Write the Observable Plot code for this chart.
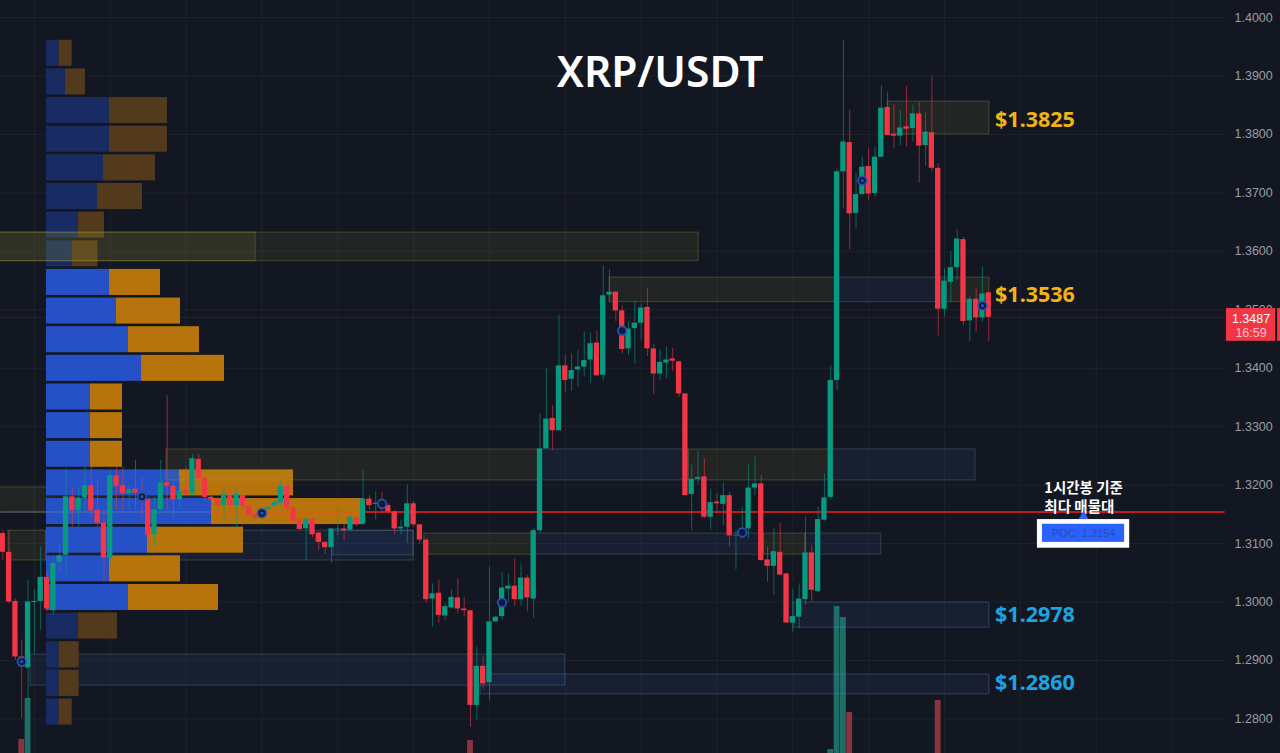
<!DOCTYPE html>
<html><head><meta charset="utf-8">
<script src="https://cdn.jsdelivr.net/npm/d3@7"></script>
<script src="https://cdn.jsdelivr.net/npm/@observablehq/plot@0.6"></script>
<style>html,body{margin:0;padding:0;background:#131722;overflow:hidden}svg{display:block}</style>
</head><body><div id="chart"></div>
<script>
// Candles: open, high, low, close per bar
const opens=[1.3117,1.3085,1.3001,1.2906,1.2887,1.2999,1.3001,1.3042,1.2985,1.3068,1.3080,1.3180,1.3156,1.3178,1.3199,1.3157,1.3135,1.3075,1.3216,1.3199,1.3185,1.3193,1.3186,1.3175,1.3115,1.3158,1.3204,1.3198,1.3175,1.3191,1.3185,1.3244,1.3211,1.3179,1.3175,1.3165,1.3182,1.3165,1.3182,1.3164,1.3149,1.3143,1.3158,1.3164,1.3169,1.3198,1.3161,1.3140,1.3125,1.3142,1.3118,1.3102,1.3093,1.3124,1.3125,1.3123,1.3144,1.3133,1.3176,1.3167,1.3172,1.3165,1.3154,1.3125,1.3128,1.3168,1.3132,1.3106,1.3005,1.3015,1.2976,1.2990,1.3007,1.2988,1.2985,1.2823,1.2890,1.2862,1.2966,1.2975,1.3022,1.3027,1.3004,1.3041,1.3005,1.3122,1.3262,1.3314,1.3293,1.3404,1.3381,1.3397,1.3402,1.3414,1.3443,1.3388,1.3525,1.3530,1.3498,1.3433,1.3468,1.3477,1.3504,1.3433,1.3390,1.3409,1.3416,1.3411,1.3356,1.3184,1.3210,1.3214,1.3145,1.3171,1.3167,1.3182,1.3113,1.3119,1.3125,1.3195,1.3202,1.3072,1.3061,1.3085,1.3048,1.2964,1.2974,1.3004,1.3084,1.3018,1.3140,1.3179,1.3379,1.3736,1.3786,1.3665,1.3697,1.3745,1.3699,1.3761,1.3846,1.3800,1.3797,1.3813,1.3810,1.3835,1.3781,1.3803,1.3742,1.3501,1.3547,1.3572,1.3620,1.3481,1.3518,1.3486,1.3529];
const highs=[1.3122,1.3122,1.3005,1.2935,1.3037,1.3021,1.3094,1.3051,1.3077,1.3097,1.3228,1.3196,1.3196,1.3231,1.3240,1.3208,1.3159,1.3225,1.3230,1.3230,1.3199,1.3242,1.3214,1.3176,1.3179,1.3242,1.3353,1.3208,1.3214,1.3231,1.3253,1.3252,1.3214,1.3185,1.3179,1.3194,1.3193,1.3196,1.3185,1.3166,1.3151,1.3157,1.3164,1.3172,1.3210,1.3201,1.3165,1.3142,1.3143,1.3144,1.3120,1.3103,1.3126,1.3162,1.3134,1.3148,1.3146,1.3226,1.3182,1.3188,1.3188,1.3168,1.3156,1.3140,1.3200,1.3172,1.3133,1.3108,1.3031,1.3037,1.2997,1.3020,1.3040,1.3008,1.2986,1.2923,1.2906,1.3060,1.2976,1.3050,1.3047,1.3073,1.3065,1.3045,1.3125,1.3322,1.3399,1.3336,1.3490,1.3422,1.3424,1.3430,1.3462,1.3460,1.3464,1.3575,1.3568,1.3531,1.3507,1.3479,1.3515,1.3510,1.3536,1.3441,1.3431,1.3436,1.3434,1.3412,1.3356,1.3234,1.3259,1.3245,1.3193,1.3185,1.3204,1.3188,1.3122,1.3162,1.3234,1.3248,1.3217,1.3094,1.3125,1.3134,1.3049,1.3022,1.3031,1.3145,1.3097,1.3162,1.3219,1.3405,1.3741,1.3961,1.3841,1.3733,1.3761,1.3775,1.3778,1.3884,1.3871,1.3851,1.3841,1.3882,1.3850,1.3855,1.3838,1.3900,1.3750,1.3570,1.3599,1.3637,1.3624,1.3522,1.3536,1.3573,1.3530];
const lows=[1.3070,1.2997,1.2900,1.2800,1.2834,1.2911,1.2951,1.2983,1.2977,1.3048,1.3048,1.3128,1.3128,1.3151,1.3142,1.3128,1.3034,1.3065,1.3157,1.3157,1.3157,1.3157,1.3145,1.3100,1.3094,1.3151,1.3157,1.3145,1.3157,1.3182,1.3182,1.3208,1.3173,1.3160,1.3150,1.3140,1.3157,1.3125,1.3157,1.3146,1.3140,1.3140,1.3156,1.3163,1.3165,1.3155,1.3135,1.3122,1.3071,1.3110,1.3088,1.3081,1.3066,1.3114,1.3105,1.3121,1.3130,1.3131,1.3157,1.3140,1.3151,1.3152,1.3115,1.3115,1.3100,1.3128,1.3099,1.2998,1.2957,1.2963,1.2968,1.2988,1.2980,1.2974,1.2786,1.2798,1.2851,1.2832,1.2965,1.2968,1.3000,1.2993,1.2993,1.2983,1.2972,1.3117,1.3262,1.3259,1.3293,1.3359,1.3360,1.3368,1.3385,1.3374,1.3386,1.3378,1.3512,1.3480,1.3424,1.3422,1.3407,1.3448,1.3420,1.3355,1.3379,1.3382,1.3395,1.3350,1.3182,1.3122,1.3200,1.3143,1.3123,1.3151,1.3131,1.3094,1.3055,1.3108,1.3108,1.3182,1.3070,1.3034,1.3011,1.3045,1.2964,1.2948,1.2954,1.2994,1.3000,1.3016,1.3138,1.3176,1.3362,1.3673,1.3602,1.3639,1.3697,1.3687,1.3693,1.3761,1.3798,1.3776,1.3781,1.3778,1.3787,1.3717,1.3745,1.3736,1.3455,1.3488,1.3513,1.3550,1.3473,1.3445,1.3462,1.3479,1.3446];
const closes=[1.3085,1.3000,1.2906,1.2889,1.3000,1.3001,1.3042,1.2988,1.3066,1.3079,1.3180,1.3156,1.3178,1.3199,1.3156,1.3135,1.3075,1.3216,1.3198,1.3185,1.3192,1.3186,1.3176,1.3114,1.3158,1.3204,1.3198,1.3175,1.3190,1.3184,1.3245,1.3211,1.3179,1.3175,1.3164,1.3184,1.3165,1.3184,1.3164,1.3149,1.3143,1.3155,1.3162,1.3170,1.3198,1.3160,1.3138,1.3124,1.3142,1.3115,1.3102,1.3093,1.3125,1.3125,1.3122,1.3145,1.3132,1.3176,1.3165,1.3169,1.3165,1.3154,1.3125,1.3128,1.3168,1.3132,1.3106,1.3004,1.3014,1.2977,1.2992,1.3008,1.2988,1.2985,1.2823,1.2890,1.2860,1.2966,1.2974,1.3024,1.3027,1.3004,1.3041,1.3007,1.3122,1.3262,1.3313,1.3293,1.3404,1.3379,1.3396,1.3402,1.3413,1.3442,1.3387,1.3524,1.3530,1.3498,1.3432,1.3467,1.3477,1.3503,1.3433,1.3390,1.3410,1.3414,1.3412,1.3356,1.3182,1.3210,1.3213,1.3145,1.3170,1.3168,1.3182,1.3113,1.3114,1.3125,1.3195,1.3202,1.3071,1.3061,1.3086,1.3046,1.2964,1.2975,1.3005,1.3084,1.3020,1.3141,1.3178,1.3379,1.3736,1.3787,1.3664,1.3697,1.3744,1.3698,1.3761,1.3845,1.3798,1.3797,1.3811,1.3809,1.3835,1.3780,1.3804,1.3742,1.3501,1.3549,1.3572,1.3621,1.3480,1.3518,1.3486,1.3527,1.3487];

// Volume histogram (bar index, units)
const volBars=[3,4,74,131,132,133,134,148];
const volValues=[14,55,13,4,147,136,41,53];
const volUp=[false,true,false,true,true,true,false,false];

// Volume profile rows
const rowTop=[1.3961,1.3912,1.3863,1.3814,1.3765,1.3716,1.3667,1.3618,1.3569,1.3520,1.3471,1.3422,1.3373,1.3324,1.3275,1.3226,1.3177,1.3128,1.3079,1.3030,1.2981,1.2932,1.2883,1.2834];
const rowBuy=[12.7,19,63,63,57,51,32,25.5,63,70,82,95,44,44,44,133,165,101,63,82,32,12.7,12.7,12.7];
const rowSell=[13,20,58,58,52,45,26,26,51,64,71,83,32,32,32,114,152,96,71,90,39,20,20,13];
const rowBright=[0,0,0,0,0,0,0,0,1,1,1,1,1,1,1,1,1,1,1,1,0,0,0,0];

// Zones behind the profile: kind, from bar, to bar, top price, bottom price
const backKind=["y","b","b","y","b","b"];
const backFrom=[-1,6.9,52.3,0.9,4.4,75.6];
const backTo=[33,65,65,6.9,89,156.1];
const backTop=[1.3196,1.3122,1.3122,1.3122,1.2910,1.2876];
const backBot=[1.3153,1.3071,1.3080,1.3071,1.2857,1.2842];

// Zones in front of the profile
const zoneKind=["y","y","y","b","y","b","y","b","y","y","y","b","y","b","b"];
const zoneFrom=[-1,-1,25.9,85.1,108.5,131,96,131.8,147.9,140,66.7,83.8,120.4,127,125.1];
const zoneTo=[110.1,40,85.1,108.5,131,153.9,131.8,147.9,156.1,156.1,83.8,120.4,127,139,156.1];
const zoneTop=[1.3632,1.3632,1.3261,1.3261,1.3261,1.3261,1.3555,1.3555,1.3555,1.3856,1.3117,1.3117,1.3117,1.3117,1.2999];
const zoneBot=[1.3583,1.3583,1.3208,1.3208,1.3208,1.3208,1.3513,1.3513,1.3513,1.3800,1.3081,1.3081,1.3081,1.3081,1.2956];

// Pivot circles
const pivotBars=[3,22,41,60,79,98,117,136,155];
const pivotPrice=[1.2898,1.3180,1.3152,1.3168,1.2999,1.3464,1.3119,1.3721,1.3507];
const pivotSolid=[1,1,1,0,0,0,0,1,1];

// Axis and grid
const priceTicks=[1.40,1.39,1.38,1.37,1.36,1.35,1.34,1.33,1.32,1.31,1.30,1.29,1.28];
const gridBars=[5,17,29,41,53,65,77,89,101,113,125,137,149,161,173,185];

// Levels
const pocPrice=1.3154, lastPrice=1.3487;
const levelLabels=["$1.3825","$1.3536","$1.2978","$1.2860"];
const levelPrice=[1.3825,1.3525,1.2977,1.2862];
const levelColor=["#f2b316","#f2b316","#1ba5e0","#1ba5e0"];

const candles=opens.map((o,i)=>({i,o,h:highs[i],l:lows[i],c:closes[i],up:closes[i]>=o}));
const vols=volBars.map((b,k)=>({b,v:volValues[k],up:volUp[k]}));
const rows=rowTop.map((t,k)=>({t,buy:rowBuy[k],sell:rowSell[k],bright:!!rowBright[k]}));
const zonesBack=backKind.map((k,i)=>({k,a:backFrom[i],b:backTo[i],t:backTop[i],m:backBot[i]}));
const zones=zoneKind.map((k,i)=>({k,a:zoneFrom[i],b:zoneTo[i],t:zoneTop[i],m:zoneBot[i]}));
const pivots=pivotBars.map((b,k)=>({b,p:pivotPrice[k],s:!!pivotSolid[k]}));
const labels=levelLabels.map((t,k)=>({t,p:levelPrice[k],c:levelColor[k]}));

const yMin=1.27408, yMax=1.40291;
const pxPerBar=6.32, pxPerPrice=5845, rowStart=6.91, rowH=0.00445;
const GREEN="#089981", RED="#f23645";
const sans="'Noto Sans','Open Sans',sans-serif";
const zoneOpts={x1:"a",x2:"b",y1:"t",y2:"m",
  fill:d=>d.k==="y"?"#aaaa32":"#3c6ebe",fillOpacity:0.1,
  stroke:d=>d.k==="y"?"#a8a83c":"#7896b4",strokeOpacity:0.3,strokeWidth:1};

const chart=Plot.plot({
  width:1280,height:753,
  marginTop:0,marginBottom:0,marginLeft:0,marginRight:56,
  style:{background:"#131722"},
  x:{type:"linear",domain:[-0.364,193.3],axis:null},
  y:{type:"linear",domain:[yMin,yMax],ticks:priceTicks},
  marks:[
    Plot.gridY(priceTicks,{stroke:"#262b37",strokeOpacity:0.55,strokeWidth:1}),
    Plot.ruleX(gridBars,{stroke:"#262b37",strokeOpacity:0.55}),
    Plot.axisY(priceTicks,{anchor:"right",tickSize:0,tickPadding:10,tickFormat:d3.format(".4f"),
      fill:"#9a9da6",fontSize:12.5,fontFamily:"'Liberation Sans',Arial,sans-serif",label:null}),
    // Volume
    Plot.rect(vols,{x1:d=>d.b-0.46,x2:d=>d.b+0.46,y1:yMin,y2:d=>yMin+d.v/pxPerPrice,
      fill:d=>d.up?"#1f6e65":"#8a3440"}),
    // Zones under the profile
    Plot.rect(zonesBack,zoneOpts),
    // Volume profile
    Plot.rect(rows,{x1:rowStart,x2:d=>rowStart+d.buy/pxPerBar,y1:d=>d.t,y2:d=>d.t-rowH,
      fill:d=>d.bright?"#2650c6":"#182c63"}),
    Plot.rect(rows,{x1:d=>rowStart+d.buy/pxPerBar,x2:d=>rowStart+(d.buy+d.sell)/pxPerBar,y1:d=>d.t,y2:d=>d.t-rowH,
      fill:d=>d.bright?"#b8740c":"#533a1d"}),
    // POC line
    Plot.ruleY([pocPrice],{x1:-0.3,x2:33,stroke:"#8a8ab0",strokeOpacity:0.5,strokeWidth:1.2}),
    Plot.ruleY([pocPrice],{x1:33,x2:57,stroke:"#e4580f",strokeOpacity:0.75,strokeWidth:1.6}),
    Plot.ruleY([pocPrice],{x1:57,x2:193.4,stroke:"#bd1a20",strokeWidth:2}),
    // Zones
    Plot.rect(zones,zoneOpts),
    // Last price line
    Plot.ruleY([lastPrice],{x1:-0.3,x2:193.4,stroke:"#f23645",strokeOpacity:0.3,strokeWidth:1,strokeDasharray:"1 1"}),
    // Wicks
    Plot.ruleX(candles,{x:"i",y1:"l",y2:"h",stroke:d=>d.up?GREEN:RED,strokeOpacity:0.6,strokeWidth:1}),
    // Bodies
    Plot.rect(candles,{x1:d=>d.i-0.42,x2:d=>d.i+0.42,y1:d=>Math.max(d.o,d.c),y2:d=>Math.min(d.o,d.c),
      fill:d=>d.up?GREEN:RED}),
    // Pivots
    Plot.dot(pivots,{x:"b",y:"p",r:4.3,fill:"#131a2c",stroke:"#2450b8",strokeWidth:1.8}),
    Plot.dot(pivots.filter(d=>d.s),{x:"b",y:"p",r:1.7,fill:"#2450b8"}),
    // Title and level labels
    Plot.text(["XRP/USDT"],{x:104,y:1.3905,text:d=>d,fill:"#ffffff",fontSize:42.5,fontWeight:600,fontFamily:sans,textAnchor:"middle"}),
    Plot.text(labels,{x:157,y:"p",text:"t",fill:"c",fontSize:21.5,fontWeight:700,fontFamily:sans,textAnchor:"start"}),
    // Annotation
    Plot.text(["1시간봉 기준","최다 매물대"],{x:164.8,y:(d,i)=>i?1.3162:1.3194,text:d=>d,fill:"#ffffff",fontSize:14.5,fontWeight:600,fontFamily:"'Noto Sans CJK KR',sans-serif",textAnchor:"start"}),
    Plot.rect([0],{x1:163.7,x2:178.3,y1:1.3141,y2:1.3092,fill:"#ffffff"}),
    Plot.rect([0],{x1:164.5,x2:177.5,y1:1.3133,y2:1.3102,fill:"#2962ff"}),
    Plot.dot([pocPrice],{x:171,y:d=>d-0.0007,symbol:"triangle",r:3.6,fill:"#2962ff"}),
    Plot.text(["POC: 1.3154"],{x:171,y:1.3117,text:d=>d,fill:"#2f4aa8",fontSize:11,fontFamily:"'Liberation Sans',sans-serif",textAnchor:"middle"}),
    // Price tag
    Plot.rect([0],{x1:193.6,x2:201.4,y1:1.3502,y2:1.3446,fill:"#f23645"}),
    Plot.rect([0],{x1:201.7,x2:202.3,y1:1.3502,y2:1.3446,fill:"#f23645"}),
    Plot.text(["1.3487"],{x:197.5,y:1.3485,text:d=>d,fill:"#ffffff",fontSize:12.5,fontFamily:"'Liberation Sans',sans-serif",textAnchor:"middle"}),
    Plot.text(["16:59"],{x:197.5,y:1.3460,text:d=>d,fill:"#f9c4ca",fontSize:12.5,fontFamily:"'Liberation Sans',sans-serif",textAnchor:"middle"})
  ]
});
document.getElementById("chart").append(chart);
</script></body></html>
